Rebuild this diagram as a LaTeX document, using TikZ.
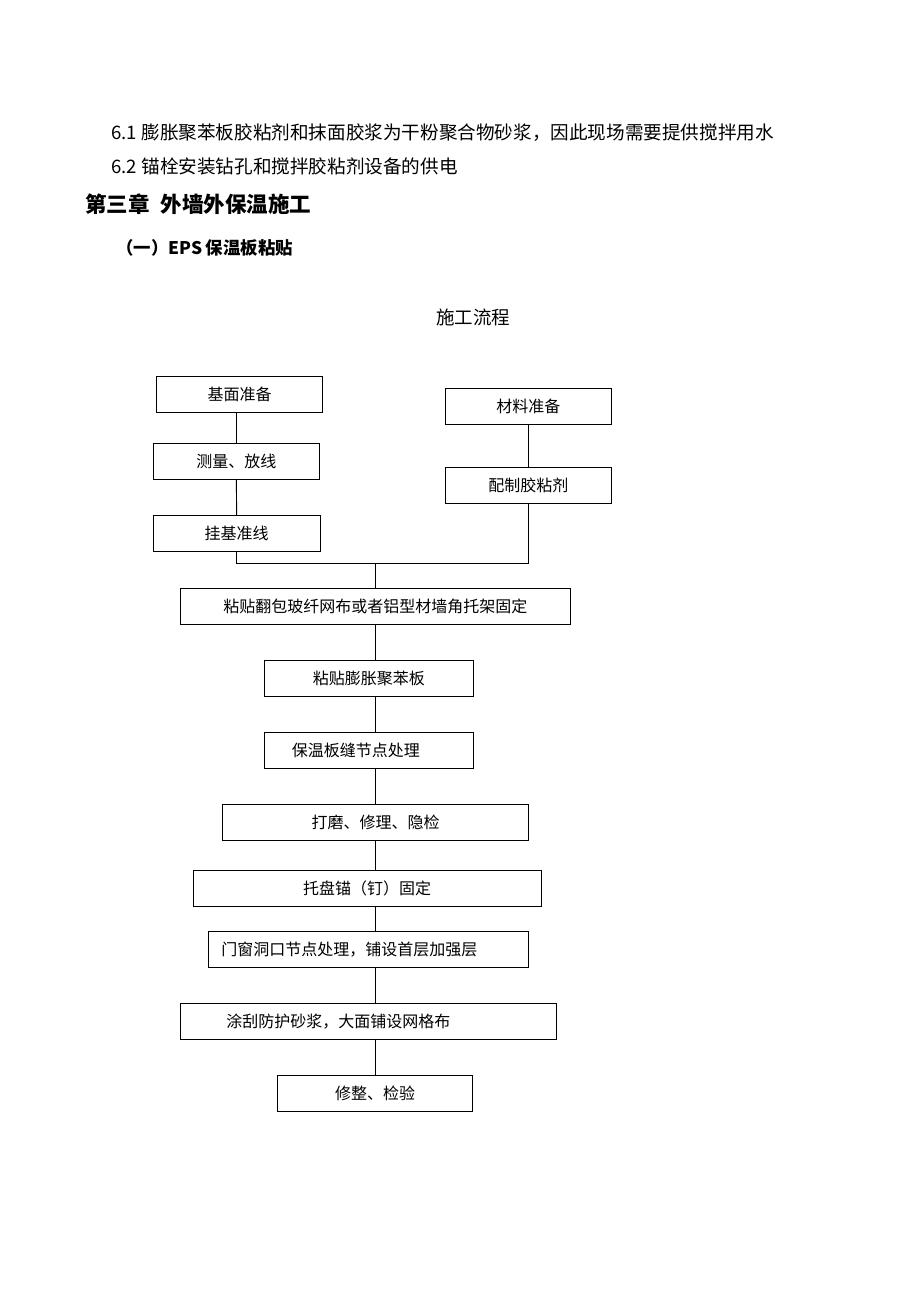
\documentclass[tikz,border=0pt]{standalone}
\usepackage{fontspec}
\setmainfont{Noto Sans CJK SC}
\usetikzlibrary{calc}

\begin{document}
\begin{tikzpicture}[x=1pt, y=-1pt, line width=0.9pt,
    passo/.style={draw, rectangle, minimum height=36pt, inner sep=0pt,
        font=\fontsize{16}{19}\selectfont},
    testo/.style={anchor=west, inner sep=0pt}]

    \useasboundingbox (0,0) rectangle (920,1302);

    % -- Testo sopra il diagramma --
    \node[testo, font=\fontsize{18.6}{22}\selectfont] (r61) at (111,133) {6.1 膨胀聚苯板胶粘剂和抹面胶浆为干粉聚合物砂浆，因此现场需要提供搅拌用水};
    \node[testo, font=\fontsize{18.6}{22}\selectfont] (r62) at (111,166) {6.2 锚栓安装钻孔和搅拌胶粘剂设备的供电};
    \node[testo, font=\fontsize{21.5}{25}\selectfont\bfseries] (cap) at (85,204) {第三章\hspace{0.5em}外墙外保温施工};
    \node[testo, font=\fontsize{17.4}{21}\selectfont\bfseries] (sez) at (116,248) {（一）EPS\hspace{0.2em}保温板粘贴};
    \node[font=\fontsize{18.5}{22}\selectfont, inner sep=0pt] (tit) at (473,317) {施工流程};

    % -- Colonna sinistra: base --
    \node[passo, minimum width=166pt] (b1) at (239.7,394.7) {基面准备};
    \node[passo, minimum width=166pt] (b2) at (236.3,461.2) {测量、放线};
    \node[passo, minimum width=166.7pt] (b3) at (236.7,533.7) {挂基准线};

    % -- Colonna destra: materiale --
    \node[passo, minimum width=166.7pt] (b4) at (528.3,406.7) {材料准备};
    \node[passo, minimum width=166.7pt] (b5) at (528.3,485.3) {配制胶粘剂};

    % -- Colonna centrale --
    \node[passo, minimum width=389.3pt] (b6) at (375.3,606.2) {粘贴翻包玻纤网布或者铝型材墙角托架固定};
    \node[passo, minimum width=209pt] (b7) at (368.8,678) {粘贴膨胀聚苯板};
    \node[passo, minimum width=209pt] (b8) at (368.8,750.5) {保温板缝节点处理\hspace*{26pt}};
    \node[passo, minimum width=305.6pt] (b9) at (375.5,822.3) {打磨、修理、隐检};
    \node[passo, minimum width=347.7pt] (b10) at (367.2,888.8) {托盘锚（钉）固定};
    \node[passo, minimum width=320pt] (b11) at (368.3,949.2) {门窗洞口节点处理，铺设首层加强层\hspace*{38pt}};
    \node[passo, minimum width=375.3pt] (b12) at (368.3,1021.7) {涂刮防护砂浆，大面铺设网格布\hspace*{60pt}};
    \node[passo, minimum width=195.4pt] (b13) at (375,1093.7) {修整、检验};

    % -- Collegamenti --
    \coordinate (j) at (375.7,563.3);
    \draw (b1.south -| b2.north) -- (b2.north);
    \draw (b2.south) -- (b3.north);
    \draw (b4.south) -- (b5.north);
    \draw (b3.south) |- (j) -| (b5.south);
    \draw (j) -- (b6.north -| j);
    \foreach \a/\b in {b6/b7, b7/b8, b8/b9, b9/b10, b10/b11, b11/b12, b12/b13}
        \draw (\a.south -| j) -- (\b.north -| j);

\end{tikzpicture}
\end{document}
